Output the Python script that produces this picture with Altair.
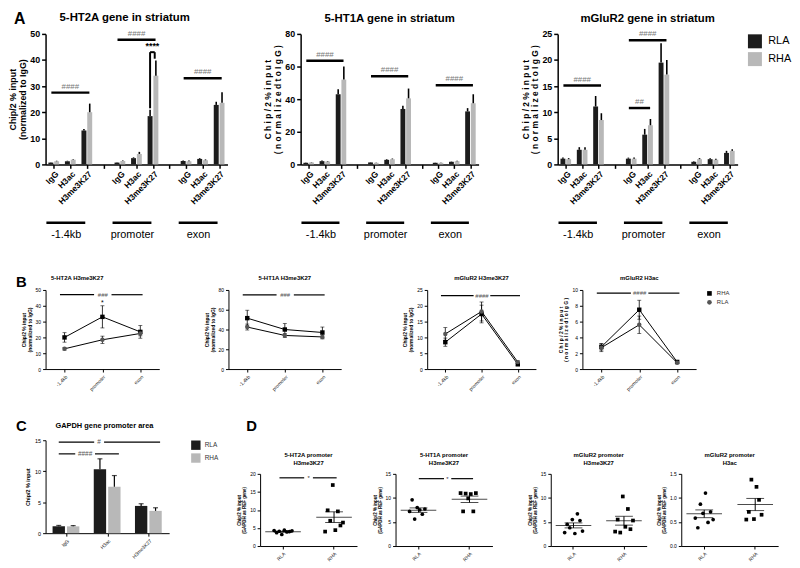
import altair as alt
import pandas as pd

FONT = "Liberation Sans"

REGIONS = ["-1.4kb", "promoter", "exon"]
MARKS = ["IgG", "H3ac", "H3me3K27"]
GROUPS = ["RLA", "RHA"]
LINE_GROUPS = ["RHA", "RLA"]
BAR_COLORS = ["#1c1c1c", "#b8b8b8"]

# ---------------- Panel A (order: region x mark) ----------------
a1_rla = [0.7, 1.2, 13.0, 0.7, 2.4, 18.5, 1.3, 2.1, 22.8]
a1_rla_err = [0.1, 0.2, 0.6, 0.1, 0.3, 2.4, 0.2, 0.3, 1.2]
a1_rha = [1.2, 1.8, 20.0, 1.3, 4.0, 34.0, 1.2, 1.6, 23.6]
a1_rha_err = [0.2, 0.2, 3.3, 0.2, 0.8, 5.8, 0.3, 0.3, 4.0]
a1_sig = [("-1.4kb", 0, 2, 27.5, "####"), ("promoter", 0, 2, 47.8, "####"),
          ("exon", 0, 2, 33.0, "####")]
a1_bracket = (21.5, 43.0, 40.5, "****")

a2_rla = [1.0, 2.0, 43.0, 1.2, 2.8, 34.0, 1.0, 1.6, 32.5]
a2_rla_err = [0.2, 0.4, 3.0, 0.2, 0.4, 2.0, 0.1, 0.2, 2.0]
a2_rha = [1.2, 1.8, 52.0, 1.0, 3.2, 40.5, 1.0, 2.0, 37.5]
a2_rha_err = [0.2, 0.3, 8.0, 0.2, 0.4, 6.0, 0.2, 0.3, 5.5]
a2_sig = [("-1.4kb", 0, 2, 63.5, "####"), ("promoter", 0, 2, 54.0, "####"),
          ("exon", 0, 2, 48.5, "####")]

a3_rla = [1.1, 2.8, 11.1, 1.1, 5.7, 19.5, 0.5, 1.0, 2.2]
a3_rla_err = [0.2, 0.5, 2.0, 0.2, 1.1, 3.7, 0.1, 0.2, 0.4]
a3_rha = [1.0, 2.8, 8.5, 1.1, 7.5, 17.2, 1.0, 0.9, 2.6]
a3_rha_err = [0.2, 0.5, 1.3, 0.2, 1.2, 2.8, 0.2, 0.2, 0.3]
a3_sig = [("-1.4kb", 0, 2, 15.1, "####"), ("promoter", 0, 1, 10.8, "##"),
          ("promoter", 0, 2, 23.8, "####")]

# ---------------- Panel B ----------------
b1_rha = [20.0, 33.0, 23.5]
b1_rha_err = [3.0, 7.0, 4.0]
b1_rla = [12.8, 18.5, 22.5]
b1_rla_err = [0.8, 2.3, 1.5]
b2_rha = [51.5, 40.0, 37.0]
b2_rha_err = [8.0, 6.0, 5.5]
b2_rla = [42.5, 34.0, 32.5]
b2_rla_err = [3.0, 2.0, 2.0]
b3_rha = [8.5, 17.4, 1.5]
b3_rha_err = [1.3, 2.8, 0.3]
b3_rla = [11.1, 18.2, 2.2]
b3_rla_err = [2.0, 3.0, 0.4]
b4_rha = [2.8, 7.5, 0.9]
b4_rha_err = [0.4, 1.2, 0.15]
b4_rla = [2.7, 5.6, 0.8]
b4_rla_err = [0.5, 1.1, 0.1]
b_sig_levels = [47.0, 75.0, 23.2, 9.6]
b_sig_labels = ["###", "###", "####", "####"]

# ---------------- Panel C ----------------
c_rla = [1.1, 10.3, 4.4]
c_rla_err = [0.15, 1.7, 0.35]
c_rha = [1.1, 7.5, 3.6]
c_rha_err = [0.12, 1.8, 0.5]

# ---------------- Panel D ----------------
d1_rla = [4.3, 3.7, 4.1, 3.2, 4.4, 3.9, 4.0, 4.2]
d1_rha = [4.0, 9.9, 7.0, 16.9, 4.4, 9.6, 5.7, 6.5]
d2_rla = [7.2, 9.6, 5.6, 8.0, 7.5, 6.6, 7.7]
d2_rha = [11.0, 7.2, 10.9, 9.9, 10.8, 7.2, 11.0]
d3_rla = [2.8, 4.5, 3.8, 5.5, 2.6, 6.7, 5.3, 3.1]
d3_rha = [3.0, 5.5, 2.8, 10.3, 4.0, 7.7, 3.5, 5.3]
d4_rla = [0.58, 0.38, 0.87, 0.68, 1.10, 0.49, 0.71, 0.55]
d4_rha = [0.55, 0.71, 1.38, 0.56, 1.23, 0.96, 0.65]

# bar placement inside one category slot (fractions of the slot)
RLA_SPAN = (0.17, 0.47)
RHA_SPAN = (0.52, 0.82)


def ax(**kw):
    d = dict(grid=False, labelFont=FONT, titleFont=FONT, domainColor="black",
             tickColor="black", labelColor="black", titleColor="black")
    d.update(kw)
    return alt.Axis(**d)


def ttl(text, size, offset, **kw):
    return alt.Title(text, font=FONT, fontSize=size, fontWeight="bold",
                     color="black", offset=offset, **kw)


def tmark(txt, dx, dy, size, bold=True, align="left"):
    return alt.Chart(pd.DataFrame({"t": [txt]})).mark_text(
        font=FONT, fontSize=size, fontWeight="bold" if bold else "normal", align=align,
        baseline="middle", color="black").encode(
        x=alt.value(dx), y=alt.value(dy), text="t:N")


SLOT_KEYS = []
for ri, r in enumerate(REGIONS):
    for m in MARKS:
        SLOT_KEYS.append((r, m))
    if ri < len(REGIONS) - 1:
        SLOT_KEYS.append(None)
NSLOT = len(SLOT_KEYS)


def slot_of(region, mi):
    return REGIONS.index(region) * 4 + mi


def bar_rows(cats_slots, rla, rla_err, rha, rha_err):
    rows = []
    for s, a, ae, b, be in zip(cats_slots, rla, rla_err, rha, rha_err):
        for g, v, e, sp in (("RLA", a, ae, RLA_SPAN), ("RHA", b, be, RHA_SPAN)):
            rows.append({"group": g, "value": v, "top": v + e,
                         "x0": s + sp[0], "x1": s + sp[1], "xc": s + (sp[0] + sp[1]) / 2})
    return pd.DataFrame(rows)


def panel_a(title, ytitle, ymax, ystep, rla, rla_err, rha, rha_err, sig, w, h,
            legend=False, letter=False, bracket=None, tsize=9):
    slots = [i for i, k in enumerate(SLOT_KEYS) if k is not None]
    df = bar_rows(slots, rla, rla_err, rha, rha_err)
    xs = alt.Scale(domain=[0, NSLOT], nice=False, zero=False)
    ys = alt.Scale(domain=[0, ymax], nice=False)
    xaxis = ax(title=None, values=[s + 0.5 for s in range(NSLOT)],
               labelExpr="['IgG','H3ac','H3me3K27',''][floor(datum.value) % 4]",
               labelAngle=-45, labelFontSize=8.5, labelFontWeight="bold", tickSize=4,
               domainWidth=1.5, tickWidth=1.5, labelPadding=1, labelOverlap=False,
               labelFlush=False)
    yaxis = ax(title=ytitle, values=list(range(0, ymax + 1, ystep)), labelFontSize=9,
               labelFontWeight="bold", titleFontSize=tsize, titleFontWeight="bold",
               titleLineHeight=10, tickSize=4, domainWidth=1.5, tickWidth=1.5,
               titlePadding=2, labelPadding=2, labelOverlap=False)
    leg = alt.Legend(title=None, orient="right", offset=10, labelFontSize=11,
                     labelFont=FONT, symbolType="square", symbolSize=200,
                     symbolStrokeWidth=0, rowPadding=3, labelOffset=6) if legend else None
    bars = alt.Chart(df).mark_bar().encode(
        x=alt.X("x0:Q", scale=xs, axis=xaxis), x2="x1:Q",
        y=alt.Y("value:Q", scale=ys, axis=yaxis), y2=alt.datum(0),
        color=alt.Color("group:N", scale=alt.Scale(domain=GROUPS, range=BAR_COLORS),
                        legend=leg, sort=GROUPS),
    )
    errs = alt.Chart(df).mark_rule(color="black", strokeWidth=1.6).encode(
        x=alt.X("xc:Q", scale=xs, axis=xaxis),
        y=alt.Y("value:Q", scale=ys, axis=yaxis), y2="top:Q")

    srows = []
    for (r, m0, m1, lvl, lab) in sig:
        s0 = slot_of(r, m0) + 0.35
        s1 = slot_of(r, m1) + 0.65
        srows.append({"x1": s0, "x2": s1, "xm": (s0 + s1) / 2, "y": lvl, "label": lab})
    sdf = pd.DataFrame(srows)
    srule = alt.Chart(sdf).mark_rule(color="black", strokeWidth=2.5).encode(
        x=alt.X("x1:Q", scale=xs, axis=xaxis), x2="x2:Q",
        y=alt.Y("y:Q", scale=ys, axis=yaxis))
    stext = alt.Chart(sdf).mark_text(font=FONT, fontSize=8, color="#777",
                                     baseline="bottom", dy=-2).encode(
        x=alt.X("xm:Q", scale=xs, axis=xaxis), y=alt.Y("y:Q", scale=ys, axis=yaxis),
        text="label:N")
    rdf = pd.DataFrame([{"x1": 4 * k + 0.05, "x2": 4 * k + 2.4, "xm": 4 * k + 1.25,
                         "label": r} for k, r in enumerate(REGIONS)])
    rrule = alt.Chart(rdf).mark_rule(color="black", strokeWidth=2.5).encode(
        x=alt.X("x1:Q", scale=xs, axis=xaxis), x2="x2:Q", y=alt.value(h + 59))
    rtext = alt.Chart(rdf).mark_text(font=FONT, fontSize=11, baseline="middle",
                                     color="black").encode(
        x=alt.X("xm:Q", scale=xs, axis=xaxis), y=alt.value(h + 71), text="label:N")
    layers = [bars, errs, srule, stext, rrule, rtext]
    if bracket is not None:
        lo_l, top, lo_r, lab = bracket
        bx0, bx1 = 6.32, 6.6
        bdf = pd.DataFrame([
            {"x1": bx0, "x2": bx0, "y1": lo_l, "y2": top},
            {"x1": bx0, "x2": bx1, "y1": top, "y2": top},
            {"x1": bx1, "x2": bx1, "y1": top, "y2": lo_r}])
        layers.append(alt.Chart(bdf).mark_rule(color="black", strokeWidth=2).encode(
            x=alt.X("x1:Q", scale=xs, axis=xaxis), x2="x2:Q",
            y=alt.Y("y1:Q", scale=ys, axis=yaxis), y2="y2:Q"))
        layers.append(alt.Chart(pd.DataFrame({"x": [(bx0 + bx1) / 2], "y": [top], "t": [lab]}))
                      .mark_text(font=FONT, fontSize=9, fontWeight="bold", baseline="bottom",
                                 dy=-1, color="black")
                      .encode(x=alt.X("x:Q", scale=xs, axis=xaxis),
                              y=alt.Y("y:Q", scale=ys, axis=yaxis), text="t:N"))
    if letter:
        layers.append(tmark("A", -32, -15, 16))
        layers.append(tmark(title, 80, -16, 11.5, align="center"))
        return alt.layer(*layers).properties(width=w, height=h)
    return alt.layer(*layers).properties(width=w, height=h, title=ttl(title, 11.5, 6))


def panel_b(title, ytitle, ymax, ystep, rha, rha_err, rla, rla_err, level, label,
            w, h, legend=False, letter=False, star=None):
    rows = []
    for g, vals, errs in (("RHA", rha, rha_err), ("RLA", rla, rla_err)):
        for k, (v, e) in enumerate(zip(vals, errs)):
            rows.append({"xp": k + 0.5, "group": g, "value": v, "lo": v - e, "hi": v + e})
    df = pd.DataFrame(rows)
    xs = alt.Scale(domain=[0, 3], nice=False, zero=False)
    ys = alt.Scale(domain=[0, ymax], nice=False)
    xaxis = ax(title=None, values=[0.5, 1.5, 2.5],
               labelExpr="['-1.4kb','promoter','exon'][floor(datum.value)]",
               labelAngle=-45, labelFontSize=5, tickSize=3, labelPadding=2,
               labelOverlap=False, labelFlush=False, labelColor="#222")
    yaxis = ax(title=ytitle, values=list(range(0, ymax + 1, ystep)), labelFontSize=5,
               titleFontSize=5, titleLineHeight=6, tickSize=3, titlePadding=3,
               labelPadding=2, labelOverlap=False)
    x = alt.X("xp:Q", scale=xs, axis=xaxis)
    base = alt.Chart(df)
    line = base.mark_line(color="black", strokeWidth=1).encode(
        x=x, y=alt.Y("value:Q", scale=ys, axis=yaxis), detail="group:N")
    err = base.mark_rule(color="black", strokeWidth=0.8).encode(
        x=x, y=alt.Y("lo:Q", scale=ys, axis=yaxis), y2="hi:Q")
    caplo = base.mark_tick(color="black", size=4, thickness=0.8, orient="horizontal").encode(
        x=x, y=alt.Y("lo:Q", scale=ys, axis=yaxis))
    caphi = base.mark_tick(color="black", size=4, thickness=0.8, orient="horizontal").encode(
        x=x, y=alt.Y("hi:Q", scale=ys, axis=yaxis))
    leg = alt.Legend(title=None, orient="right", offset=10, labelFontSize=6,
                     labelFont=FONT, symbolSize=22, rowPadding=2,
                     labelColor="#333") if legend else None
    pts = base.mark_point(filled=True, size=20, opacity=1).encode(
        x=x, y=alt.Y("value:Q", scale=ys, axis=yaxis),
        shape=alt.Shape("group:N", scale=alt.Scale(domain=LINE_GROUPS, range=["square", "circle"]),
                        legend=leg, sort=LINE_GROUPS),
        color=alt.Color("group:N", scale=alt.Scale(domain=LINE_GROUPS, range=["black", "#555555"]),
                        legend=leg, sort=LINE_GROUPS))
    segs = pd.DataFrame({"x1": [0.38, 1.74], "x2": [1.28, 2.56], "y": [level, level]})
    srule = alt.Chart(segs).mark_rule(color="black", strokeWidth=1.2).encode(
        x=alt.X("x1:Q", scale=xs, axis=xaxis), x2="x2:Q", y=alt.Y("y:Q", scale=ys, axis=yaxis))
    stxt = alt.Chart(pd.DataFrame({"x": [1.51], "y": [level], "t": [label]})).mark_text(
        font=FONT, fontSize=6, color="#555", baseline="middle").encode(
        x=alt.X("x:Q", scale=xs, axis=xaxis), y=alt.Y("y:Q", scale=ys, axis=yaxis), text="t:N")
    layers = [line, err, caplo, caphi, pts, srule, stxt]
    if star is not None:
        layers.append(alt.Chart(pd.DataFrame({"x": [1.5], "y": [star], "t": ["*"]})).mark_text(
            font=FONT, fontSize=7, color="black", baseline="middle").encode(
            x=alt.X("x:Q", scale=xs, axis=xaxis), y=alt.Y("y:Q", scale=ys, axis=yaxis),
            text="t:N"))
    if letter:
        layers.append(tmark("B", -30, -8, 15))
        layers.append(tmark(title, 32, -12, 6, align="center"))
        return alt.layer(*layers).properties(width=w, height=h)
    return alt.layer(*layers).properties(width=w, height=h, title=ttl(title, 6, 7))


def panel_c(w, h):
    df = bar_rows([0, 1, 2], c_rla, c_rla_err, c_rha, c_rha_err)
    xs = alt.Scale(domain=[0, 3], nice=False, zero=False)
    ys = alt.Scale(domain=[0, 15], nice=False)
    xaxis = ax(title=None, values=[0.5, 1.5, 2.5],
               labelExpr="['IgG','H3ac','H3me3K27'][floor(datum.value)]",
               labelAngle=-45, labelFontSize=5, tickSize=3, labelOverlap=False,
               labelFlush=False, labelColor="#222")
    yaxis = ax(title="Chip/2 % input", values=[0, 5, 10, 15], labelFontSize=5.5,
               titleFontSize=5.5, tickSize=3, titlePadding=4, labelOverlap=False)
    bars = alt.Chart(df).mark_bar().encode(
        x=alt.X("x0:Q", scale=xs, axis=xaxis), x2="x1:Q",
        y=alt.Y("value:Q", scale=ys, axis=yaxis), y2=alt.datum(0),
        color=alt.Color("group:N", scale=alt.Scale(domain=GROUPS, range=BAR_COLORS), sort=GROUPS,
                        legend=alt.Legend(title=None, orient="right", offset=22, labelFontSize=6.5,
                                          labelFont=FONT, symbolType="square", symbolSize=90,
                                          symbolStrokeWidth=0, rowPadding=3, labelColor="#333")))
    errs = alt.Chart(df).mark_rule(color="black", strokeWidth=1.2).encode(
        x=alt.X("xc:Q", scale=xs, axis=xaxis),
        y=alt.Y("value:Q", scale=ys, axis=yaxis), y2="top:Q")
    caps = alt.Chart(df).mark_tick(color="black", size=5, thickness=1.2,
                                   orient="horizontal").encode(
        x=alt.X("xc:Q", scale=xs, axis=xaxis), y=alt.Y("top:Q", scale=ys, axis=yaxis))
    segs = pd.DataFrame({"x1": [0.32, 1.42, 0.32, 1.2], "x2": [1.18, 2.78, 0.72, 1.78],
                         "y": [14.7, 14.7, 12.8, 12.8]})
    labs = pd.DataFrame({"x": [1.3, 0.96], "y": [14.7, 12.8], "t": ["#", "####"]})
    rule = alt.Chart(segs).mark_rule(color="black", strokeWidth=1.2).encode(
        x=alt.X("x1:Q", scale=xs, axis=xaxis), x2="x2:Q", y=alt.Y("y:Q", scale=ys, axis=yaxis))
    txt = alt.Chart(labs).mark_text(font=FONT, fontSize=6.5, color="#555", baseline="middle").encode(
        x=alt.X("x:Q", scale=xs, axis=xaxis), y=alt.Y("y:Q", scale=ys, axis=yaxis), text="t:N")
    return alt.layer(bars, errs, caps, rule, txt, tmark("C", -30, -14, 15),
                     tmark("GAPDH gene promoter area", 10, -14, 7.5)).properties(width=w, height=h)


def panel_d(title, ymax, ystep, rla, rha, w, h, sig=None, fmt="d"):
    rows = [{"group": "RLA", "idx": i, "value": v} for i, v in enumerate(rla)]
    rows += [{"group": "RHA", "idx": i, "value": v} for i, v in enumerate(rha)]
    df = pd.DataFrame(rows)
    nmax = max(len(rla), len(rha))
    xs = alt.Scale(domain=GROUPS, paddingInner=0.6, paddingOuter=0.25)
    xo = alt.Scale(domain=list(range(nmax)), paddingInner=0)
    ys = alt.Scale(domain=[0, ymax], nice=False)
    vals = [round(ystep * k, 2) for k in range(int(round(ymax / ystep)) + 1)]
    xaxis = ax(title=None, labelAngle=-45, labelFontSize=5, tickSize=3, labelPadding=2,
               labelColor="#222")
    yaxis = ax(title=["Chip/2 % input", "(GAPDH as REF gene)"], values=vals, format=fmt,
               labelFontSize=5, titleFontSize=4.5, titleLineHeight=5, tickSize=3,
               titlePadding=3, labelPadding=2, labelOverlap=False)
    x = alt.X("group:N", scale=xs, axis=xaxis, sort=GROUPS)
    pts = alt.Chart(df).mark_point(filled=True, size=14, opacity=1, color="black").encode(
        x=x, xOffset=alt.XOffset("idx:O", scale=xo),
        y=alt.Y("value:Q", scale=ys, axis=yaxis),
        shape=alt.Shape("group:N", scale=alt.Scale(domain=GROUPS, range=["circle", "square"]),
                        legend=None))
    stats = alt.Chart(df).transform_aggregate(
        mean="mean(value)", sem="stderr(value)", groupby=["group"]).transform_calculate(
        lo="datum.mean - datum.sem", hi="datum.mean + datum.sem")
    mean_t = stats.mark_tick(color="black", size=36, thickness=1).encode(
        x=x, y=alt.Y("mean:Q", scale=ys, axis=yaxis))
    lo_t = stats.mark_tick(color="black", size=18, thickness=1).encode(
        x=x, y=alt.Y("lo:Q", scale=ys, axis=yaxis))
    hi_t = stats.mark_tick(color="black", size=18, thickness=1).encode(
        x=x, y=alt.Y("hi:Q", scale=ys, axis=yaxis))
    vr = stats.mark_rule(color="black", strokeWidth=1).encode(
        x=x, y=alt.Y("lo:Q", scale=ys, axis=yaxis), y2="hi:Q")
    main = alt.layer(pts, mean_t, lo_t, hi_t, vr)
    t = ttl(title, 6, 6)
    if sig is None:
        return main.properties(width=w, height=h, title=t)
    level, a0, a1, b0, b1, tx = sig
    qx = alt.Scale(domain=[0, 2], nice=False, zero=False)
    segs = pd.DataFrame({"x1": [a0, b0], "x2": [a1, b1], "y": [level, level]})
    rule = alt.Chart(segs).mark_rule(color="black", strokeWidth=1.2).encode(
        x=alt.X("x1:Q", scale=qx, axis=None), x2="x2:Q", y=alt.Y("y:Q", scale=ys, axis=yaxis))
    txt = alt.Chart(pd.DataFrame({"x": [tx], "y": [level], "t": ["*"]})).mark_text(
        font=FONT, fontSize=6, color="#333", baseline="middle").encode(
        x=alt.X("x:Q", scale=qx, axis=None), y=alt.Y("y:Q", scale=ys, axis=yaxis), text="t:N")
    return alt.layer(main, alt.layer(rule, txt)).resolve_scale(x="independent").properties(
        width=w, height=h, title=t)


SPACED1 = "C h i p / 2 %   i n p u t"
SPACED2 = "( n o r m a l i z e d   t o   I g G )"
NORM = ["Chip/2 % input", "(normalized to IgG)"]

A1 = panel_a("5-HT2A gene in striatum", NORM, 50, 10, a1_rla, a1_rla_err, a1_rha,
             a1_rha_err, a1_sig, 184, 132, letter=True, bracket=a1_bracket)
A2 = panel_a("5-HT1A gene in striatum", [SPACED1, SPACED2], 80, 20, a2_rla, a2_rla_err,
             a2_rha, a2_rha_err, a2_sig, 180, 132, tsize=8.5)
A3 = panel_a("mGluR2 gene in striatum", [SPACED1, SPACED2], 25, 5, a3_rla, a3_rla_err,
             a3_rha, a3_rha_err, a3_sig, 182, 132, legend=True, tsize=8.5)

B1 = panel_b("5-HT2A H3me3K27", NORM, 50, 10, b1_rha, b1_rha_err, b1_rla, b1_rla_err,
             b_sig_levels[0], b_sig_labels[0], 115, 80, letter=True, star=42)
B2 = panel_b("5-HT1A H3me3K27", NORM, 80, 20, b2_rha, b2_rha_err, b2_rla, b2_rla_err,
             b_sig_levels[1], b_sig_labels[1], 114, 80)
B3 = panel_b("mGluR2 H3me3K27", NORM, 25, 5, b3_rha, b3_rha_err, b3_rla, b3_rla_err,
             b_sig_levels[2], b_sig_labels[2], 110, 80)
B4 = panel_b("mGluR2 H3ac", [SPACED1, SPACED2], 10, 2, b4_rha, b4_rha_err, b4_rla,
             b4_rla_err, b_sig_levels[3], b_sig_labels[3], 115, 80, legend=True)

C = panel_c(125, 94)

D1 = panel_d(["5-HT2A promoter", "H3me3K27"], 20, 5, d1_rla, d1_rha, 98, 73,
             sig=(18.9, 0.4, 0.91, 1.09, 1.58, 1.0))
D2 = panel_d(["5-HT1A promoter", "H3me3K27"], 15, 5, d2_rla, d2_rha, 98, 73,
             sig=(14.0, 0.48, 1.0, 1.15, 1.6, 1.07))
D3 = panel_d(["mGluR2 promoter", "H3me3K27"], 15, 5, d3_rla, d3_rha, 97, 73)
D4 = panel_d(["mGluR2 promoter", "H3ac"], 1.5, 0.5, d4_rla, d4_rha, 98, 73, fmt=".1f")

spacerD = tmark("D", -14, -14, 15).properties(width=1, height=8)

IND = dict(color="independent", shape="independent")

rowA = alt.hconcat(alt.hconcat(A1, A2, spacing=36).resolve_scale(**IND), A3,
                   spacing=42).resolve_scale(**IND)
rowB = alt.hconcat(alt.hconcat(B1, B2, spacing=45).resolve_scale(**IND),
                   alt.hconcat(B3, B4, spacing=22).resolve_scale(**IND),
                   spacing=62).resolve_scale(**IND)
groupD = alt.hconcat(alt.hconcat(D1, D2, spacing=15).resolve_scale(**IND),
                     alt.hconcat(D3, D4, spacing=10).resolve_scale(**IND),
                     spacing=35).resolve_scale(**IND)
colD = alt.vconcat(spacerD, groupD, spacing=4).resolve_scale(**IND)
rowCD = alt.hconcat(C, colD, spacing=18).resolve_scale(**IND)

topAB = alt.vconcat(rowA, rowB, spacing=36).resolve_scale(**IND)
chart = alt.vconcat(topAB, rowCD, spacing=28).resolve_scale(**IND).properties(
    padding={"left": 0, "top": 0, "right": 0, "bottom": 0},
    background="white").configure_view(stroke=None).configure_axis(
    labelFont=FONT, titleFont=FONT).configure_legend(labelFont=FONT)

chart.save("out.html", embed_options={"renderer": "svg", "actions": False})
